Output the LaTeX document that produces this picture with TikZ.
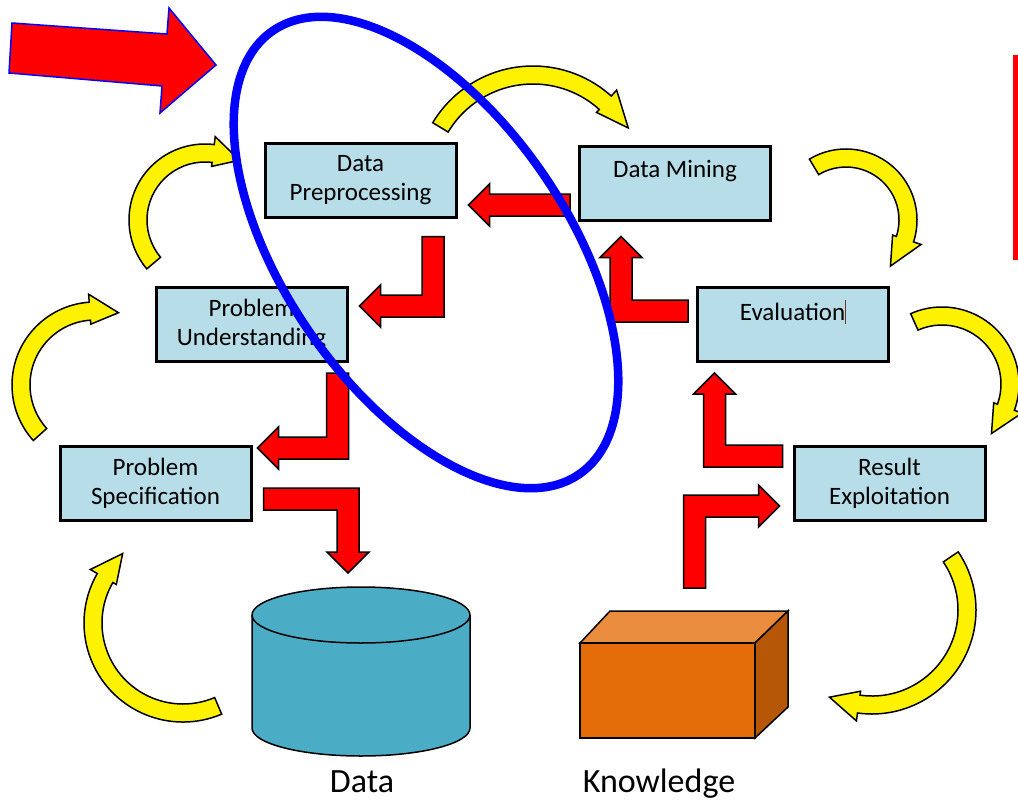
\documentclass[tikz,border=0pt]{standalone}
\usepackage{fontspec}
\setmainfont{Carlito}
\usetikzlibrary{calc}
\definecolor{stagefill}{HTML}{B7DDE8}
\definecolor{dbfill}{HTML}{4BACC6}
\definecolor{knowfront}{HTML}{E36C09}
\definecolor{knowtop}{HTML}{E98C3E}
\definecolor{knowside}{HTML}{B65708}
\definecolor{caret}{HTML}{7F2A2A}
\newcommand{\bentarrow}[5]{%
  \draw[swirl] ($(#1)+(#3:{#2+9})$) arc[start angle=#3,end angle=#4,radius={#2+9}]
    -- ($(#1)+(#4:{#2+17})$) -- ($(#1)+(#5:{#2+2})$) -- ($(#1)+(#4:{#2-13})$)
    -- ($(#1)+(#4:{#2-9})$) arc[start angle=#4,end angle=#3,radius={#2-9}] -- cycle;}
\begin{document}
    \begin{tikzpicture}[x=1pt,y=-1pt,
      stage/.style={draw,line width=3pt,fill=stagefill,minimum width=191pt,
        minimum height=74pt,inner sep=0pt,align=center,font=\fontsize{25}{29}\selectfont},
      bigtext/.style={font=\fontsize{34}{40}\selectfont,anchor=base},
      swirl/.style={draw,line width=1.5pt,fill=yellow},
      redblock/.style={draw,line width=1.5pt,fill=red},
      hh/.style={redblock,to path={let \p1=(\tikztostart),\p2=(\tikztotarget),
        \n1={sign(\x2-\x1)} in
        (\x1,{\y1-11pt}) -- ({\x2-(\n1)*21pt},{\y1-11pt}) -- ({\x2-(\n1)*21pt},{\y1-21pt})
        -- (\x2,\y1) -- ({\x2-(\n1)*21pt},{\y1+21pt}) -- ({\x2-(\n1)*21pt},{\y1+11pt})
        -- (\x1,{\y1+11pt}) -- cycle}},
      vh/.style={redblock,to path={let \p1=(\tikztostart),\p2=(\tikztotarget),
        \n1={sign(\x2-\x1)},\n2={sign(\y2-\y1)} in
        ({\x1-(\n1)*11pt},\y1) -- ({\x1-(\n1)*11pt},{\y2+(\n2)*11pt})
        -- ({\x2-(\n1)*21pt},{\y2+(\n2)*11pt}) -- ({\x2-(\n1)*21pt},{\y2+(\n2)*21pt})
        -- (\x2,\y2) -- ({\x2-(\n1)*21pt},{\y2-(\n2)*21pt})
        -- ({\x2-(\n1)*21pt},{\y2-(\n2)*11pt}) -- ({\x1+(\n1)*11pt},{\y2-(\n2)*11pt})
        -- ({\x1+(\n1)*11pt},\y1) -- cycle}},
      hv/.style={redblock,to path={let \p1=(\tikztostart),\p2=(\tikztotarget),
        \n1={sign(\x2-\x1)},\n2={sign(\y2-\y1)} in
        (\x1,{\y1-(\n2)*11pt}) -- ({\x2+(\n1)*11pt},{\y1-(\n2)*11pt})
        -- ({\x2+(\n1)*11pt},{\y2-(\n2)*21pt}) -- ({\x2+(\n1)*21pt},{\y2-(\n2)*21pt})
        -- (\x2,\y2) -- ({\x2-(\n1)*21pt},{\y2-(\n2)*21pt})
        -- ({\x2-(\n1)*11pt},{\y2-(\n2)*21pt}) -- ({\x2-(\n1)*11pt},{\y1+(\n2)*11pt})
        -- (\x1,{\y1+(\n2)*11pt}) -- cycle}}]
      \useasboundingbox (0,0) rectangle (1018,801);

      \bentarrow{533,183}{108}{211}{312}{330}
      \bentarrow{205,220}{67}{140}{277}{300}
      \bentarrow{95,385}{74}{138}{266}{288}
      \bentarrow{846,220}{62}{239}{378}{406}
      \bentarrow{942,384}{68}{246}{380}{405}
      \bentarrow{872,610}{95}{-34}{98}{116}
      \bentarrow{183,623}{90}{67}{210}{229}

      \node[stage] (dp) at (360.5,180) {Data\\Preprocessing};
      \node[stage] (dm) at (675,183) {Data Mining\\~};
      \node[stage] (pu) at (251.5,324.5) {Problem\\Understanding};
      \node[stage] (ev) at (793,324.5) {Evaluation{\color{caret}\rule[-0.15em]{0.8pt}{0.95em}}\\~};
      \node[stage] (ps) at (155.5,483.5) {Problem\\Specification};
      \node[stage] (re) at (889.5,483.5) {Result\\Exploitation};

      \coordinate (db) at (361,587);
      \draw[line width=1.5pt,fill=dbfill] (252,615) -- (252,728)
        arc[start angle=180,end angle=0,x radius=109,y radius=28] -- (470,615)
        arc[start angle=0,end angle=-180,x radius=109,y radius=28] -- cycle;
      \draw[line width=1.5pt] (252,615) arc[start angle=180,end angle=0,x radius=109,y radius=28];
      \node[bigtext] (dblabel) at (362,792) {Data};

      \coordinate (know) at (684,611);
      \draw[line width=1.5pt,fill=knowtop] (580,643) -- (610,611) -- (788,611) -- (755,643) -- cycle;
      \draw[line width=1.5pt,fill=knowside] (755,643) -- (788,611) -- (788,707) -- (755,738) -- cycle;
      \draw[line width=1.5pt,fill=knowfront] (580,643) rectangle (755,738);
      \node[bigtext] (knowlabel) at (659,792) {Knowledge};

      \draw[hh] ($(dm.west)+(-8,22)$) to ($(dp.east)+(11,25)$);
      \draw[vh] ($(dp.south)+(72.5,18)$) to ($(pu.east)+(11,-18.5)$);
      \draw[vh] ($(pu.south)+(86,10)$) to ($(ps.east)+(5,-35.5)$);
      \draw[hv] ($(ps.east)+(11,15.5)$) to ($(db)+(-13,-14)$);
      \draw[vh] ($(know)+(10.5,-23)$) to ($(re.west)+(-13,22.5)$);
      \draw[hv] ($(re.west)+(-10,-27.5)$) to ($(ev.south)+(-78.5,10)$);
      \draw[hv] ($(ev.west)+(-8,-13.5)$) to ($(dm.south)+(-54,15)$);

      \draw[fill=red,draw=blue,line width=1.5pt] (12,23) -- (167,34) -- (169,8) -- (216,65)
        -- (160,113) -- (162,86) -- (9,73) -- cycle;
      \fill[red] (1013,55) rectangle (1018,260);

      \draw[blue,line width=8.5pt,rotate around={-55.3:(426,252.5)}]
        (426,252.5) ellipse[x radius=269.5,y radius=141];
    \end{tikzpicture}
\end{document}
